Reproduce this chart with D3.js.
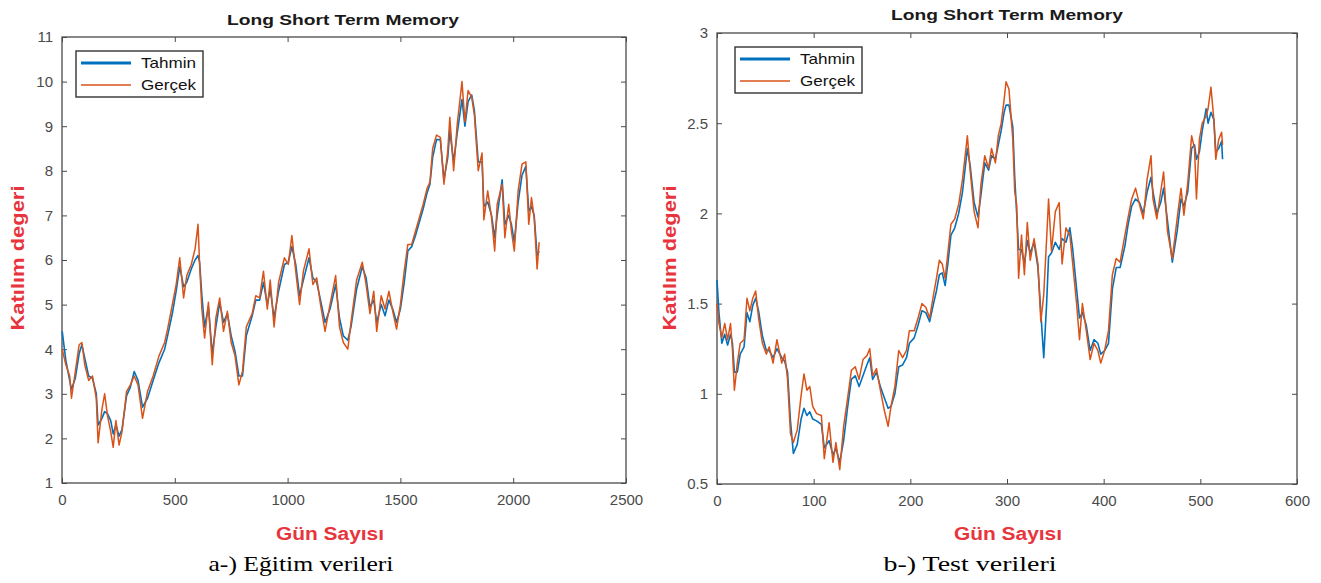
<!DOCTYPE html>
<html>
<head>
<meta charset="utf-8">
<script src="https://cdn.jsdelivr.net/npm/d3@7"></script>
<style>
  body { margin: 0; background: #fff; }
  svg { display: block; font-family: "Liberation Sans", Arial, sans-serif; }
</style>
</head>
<body>
<div id="chart"></div>
<script>

// ---- a-) training data (day, value) ----
var trainDays = [
  1,17,34,42,59,76,88,101,118,135,
  152,160,177,189,202,216,227,239,253,266,
  286,303,320,337,357,379,404,430,455,468,
  489,506,522,539,553,573,590,603,610,620,
  632,649,666,682,699,716,733,750,767,784,
  800,817,843,859,876,893,910,923,940,960,
  986,1003,1019,1036,1053,1070,1095,1112,1129,1146,
  1166,1188,1213,1230,1247,1267,1281,1306,1331,1348,
  1365,1382,1395,1415,1432,1449,1466,1483,1500,1517,
  1533,1550,1567,1584,1601,1618,1631,1643,1660,1677,
  1693,1710,1719,1736,1752,1773,1786,1800,1816,1828,
  1845,1862,1870,1887,1904,1918,1929,1951,1963,1980,
  1992,2005,2022,2039,2056,2069,2081,2093,2106,2115
];
var trainGercek = [
  4.0,3.65,3.4,2.9,3.5,4.1,4.15,3.65,3.3,3.4,
  2.9,1.9,2.65,3.0,2.5,2.15,1.8,2.4,1.85,2.15,
  3.05,3.2,3.4,3.2,2.45,3.05,3.4,3.85,4.15,4.45,
  5.0,5.45,6.05,5.15,5.65,5.9,6.25,6.8,5.9,4.9,
  4.25,5.05,3.65,4.7,5.15,4.4,4.85,4.15,3.85,3.2,
  3.5,4.5,4.8,5.2,5.15,5.75,4.9,5.55,4.5,5.5,
  6.05,5.9,6.55,5.75,5.0,5.75,6.25,5.45,5.6,5.0,
  4.4,5.0,5.65,4.5,4.15,4.0,4.6,5.55,5.95,5.45,
  4.8,5.3,4.4,5.2,4.9,5.3,4.85,4.45,5.0,5.75,
  6.35,6.35,6.65,6.95,7.25,7.6,7.75,8.5,8.8,8.75,
  7.7,8.45,9.2,8.0,9.05,10.0,9.1,9.8,9.65,9.25,
  8.0,8.4,6.9,7.55,6.95,6.2,7.25,7.7,6.5,7.25,
  6.65,6.2,7.55,8.15,8.2,6.8,7.4,6.95,5.8,6.4
];
var trainTahmin = [
  4.4,3.75,3.3,3.1,3.35,3.9,4.1,3.8,3.4,3.35,
  3.0,2.3,2.45,2.6,2.55,2.4,2.1,2.3,2.05,2.2,
  2.95,3.15,3.5,3.3,2.7,2.9,3.3,3.7,4.0,4.3,
  4.8,5.3,5.85,5.4,5.5,5.8,6.0,6.1,5.95,5.2,
  4.5,4.95,3.9,4.5,5.05,4.6,4.8,4.3,3.95,3.4,
  3.4,4.3,4.75,5.1,5.1,5.5,5.0,5.35,4.7,5.3,
  5.9,5.95,6.3,5.9,5.2,5.55,6.05,5.6,5.5,5.1,
  4.6,4.9,5.45,4.7,4.3,4.2,4.5,5.35,5.85,5.6,
  4.95,5.1,4.6,5.0,4.75,5.1,4.9,4.6,4.9,5.5,
  6.2,6.3,6.55,6.85,7.15,7.5,7.7,8.3,8.7,8.7,
  7.8,8.3,8.9,8.2,8.85,9.6,9.0,9.55,9.7,9.35,
  8.2,8.2,7.2,7.3,7.0,6.5,7.0,7.8,6.8,7.0,
  6.8,6.4,7.3,7.9,8.1,7.1,7.2,7.0,6.1,6.2
];

// ---- b-) test data (day, value) ----
var testDays = [
  0,2,5,8,11,14,16,18,21,24,
  28,31,34,37,40,43,47,51,54,58,
  62,67,70,73,76,79,83,87,90,93,
  96,99,103,108,111,116,120,123,127,131,
  135,139,143,147,151,155,158,161,165,169,
  173,177,180,184,188,192,196,199,204,208,
  212,216,220,224,227,230,233,236,239,242,
  246,250,254,259,262,266,270,273,277,281,
  284,288,291,294,297,299,302,306,308,310,
  312,315,318,321,324,328,332,335,338,341,
  343,346,350,354,357,361,365,368,372,375,
  378,382,386,390,394,397,401,405,409,413,
  417,422,425,429,433,437,441,445,449,451,
  455,459,462,466,471,476,480,483,487,491,
  494,496,499,502,506,508,511,514,516,519,
  522,523
];
var testGercek = [
  1.5,1.39,1.31,1.39,1.30,1.39,1.24,1.02,1.17,1.28,
  1.30,1.53,1.46,1.53,1.57,1.42,1.28,1.22,1.26,1.17,
  1.30,1.17,1.22,1.08,0.78,0.73,0.80,0.99,1.11,1.02,
  1.04,0.93,0.89,0.88,0.64,0.84,0.62,0.73,0.58,0.82,
  0.97,1.13,1.15,1.08,1.19,1.21,1.25,1.10,1.14,1.02,
  0.91,0.82,0.93,1.04,1.24,1.20,1.24,1.35,1.35,1.42,
  1.50,1.48,1.42,1.55,1.64,1.74,1.72,1.64,1.79,1.94,
  1.97,2.05,2.19,2.43,2.23,2.01,1.92,2.16,2.32,2.25,
  2.36,2.28,2.43,2.50,2.63,2.73,2.69,2.41,2.12,2.05,
  1.64,1.88,1.66,1.95,1.74,1.86,1.72,1.40,1.55,1.86,
  2.08,1.79,2.01,2.06,1.72,1.92,1.88,1.72,1.50,1.30,
  1.50,1.35,1.19,1.28,1.24,1.17,1.24,1.35,1.66,1.75,
  1.73,1.88,1.97,2.08,2.14,2.05,1.97,2.19,2.32,2.08,
  1.97,2.12,2.23,1.90,1.75,1.97,2.14,1.99,2.17,2.43,
  2.36,2.08,2.41,2.50,2.54,2.58,2.70,2.52,2.30,2.41,
  2.45,2.38
];
var testTahmin = [
  1.63,1.45,1.28,1.33,1.27,1.33,1.28,1.12,1.12,1.22,
  1.26,1.45,1.40,1.49,1.53,1.46,1.32,1.24,1.24,1.20,
  1.25,1.20,1.18,1.12,0.85,0.67,0.72,0.86,0.92,0.88,
  0.90,0.86,0.85,0.83,0.70,0.74,0.66,0.70,0.62,0.74,
  0.92,1.08,1.10,1.04,1.10,1.16,1.20,1.08,1.12,1.04,
  0.98,0.92,0.93,1.00,1.15,1.16,1.20,1.28,1.31,1.38,
  1.46,1.45,1.40,1.50,1.57,1.66,1.67,1.60,1.73,1.88,
  1.92,2.00,2.12,2.36,2.26,2.06,1.98,2.10,2.28,2.24,
  2.32,2.30,2.38,2.46,2.56,2.60,2.60,2.48,2.20,2.00,
  1.80,1.80,1.72,1.85,1.78,1.84,1.70,1.45,1.20,1.50,
  1.76,1.78,1.84,1.80,1.86,1.84,1.92,1.80,1.58,1.42,
  1.45,1.38,1.24,1.30,1.28,1.22,1.24,1.28,1.58,1.70,
  1.70,1.82,1.93,2.04,2.08,2.06,2.00,2.12,2.20,2.12,
  2.00,2.06,2.14,1.96,1.73,1.90,2.08,2.04,2.12,2.36,
  2.38,2.30,2.34,2.46,2.58,2.50,2.56,2.52,2.34,2.36,
  2.40,2.30
];

var trainXTicks = [0, 500, 1000, 1500, 2000, 2500];
var trainYTicks = [1, 2, 3, 4, 5, 6, 7, 8, 9, 10, 11];
var testXTicks = [0, 100, 200, 300, 400, 500, 600];
var testYTicks = [0.5, 1, 1.5, 2, 2.5, 3];

var seriesNames = ["Tahmin", "Gerçek"];
var colors = ["#0072BD", "#D95319"];
var titleText = "Long Short Term Memory";
var xLabelText = "Gün Sayısı";
var yLabelText = "Katılım degeri";
var redLabel = "#e8343c";

var svg = d3.select("#chart").append("svg")
    .attr("width", 1321)
    .attr("height", 583);

// stretched text helper (the original figure is slightly widened)
function addText(g, txt, x, y, size, width, opts) {
    opts = opts || {};
    var t = g.append("text")
        .attr("x", x)
        .attr("y", y)
        .attr("text-anchor", "middle")
        .style("font-size", size + "px")
        .style("font-weight", opts.bold ? "bold" : "normal")
        .style("font-family", opts.family || null)
        .style("fill", opts.fill || "#000")
        .text(txt);
    if (width) t.attr("textLength", width).attr("lengthAdjust", "spacingAndGlyphs");
    if (opts.rotate) t.attr("transform", "rotate(-90," + x + "," + y + ")");
    return t;
}

function drawPanel(p) {
    var x = d3.scaleLinear().domain(p.xDomain).range([p.left, p.right]);
    var y = d3.scaleLinear().domain(p.yDomain).range([p.bottom, p.top]);
    var g = svg.append("g");

    var fmt = function (d) { return String(d); };

    // axes with inward ticks on all four sides
    g.append("g")
        .attr("transform", "translate(0," + p.bottom + ")")
        .call(d3.axisBottom(x).tickValues(p.xTicks).tickSize(-5).tickPadding(11).tickFormat(fmt));
    g.append("g")
        .attr("transform", "translate(" + p.left + ",0)")
        .call(d3.axisLeft(y).tickValues(p.yTicks).tickSize(-5).tickPadding(9).tickFormat(fmt));
    g.append("g")
        .attr("transform", "translate(0," + p.top + ")")
        .call(d3.axisTop(x).tickValues(p.xTicks).tickSize(-5).tickFormat(""));
    g.append("g")
        .attr("transform", "translate(" + p.right + ",0)")
        .call(d3.axisRight(y).tickValues(p.yTicks).tickSize(-5).tickFormat(""));

    g.selectAll(".domain").remove();
    g.selectAll(".tick line").attr("stroke", "#4a4a4a");
    g.selectAll(".tick text")
        .style("font-size", "15px")
        .style("font-family", "'Liberation Sans', Arial, sans-serif")
        .attr("fill", "#4a4a4a");

    g.append("rect")
        .attr("x", p.left).attr("y", p.top)
        .attr("width", p.right - p.left).attr("height", p.bottom - p.top)
        .attr("fill", "none").attr("stroke", "#4a4a4a").attr("stroke-width", 1.3);

    // lines
    var line = d3.line()
        .x(function (d) { return x(d[0]); })
        .y(function (d) { return y(d[1]); });

    var tahmin = p.days.map(function (d, i) { return [d, p.tahmin[i]]; });
    var gercek = p.days.map(function (d, i) { return [d, p.gercek[i]]; });

    g.append("path").datum(tahmin)
        .attr("d", line).attr("fill", "none")
        .attr("stroke", colors[0]).attr("stroke-width", 1.6).attr("stroke-linejoin", "round");
    g.append("path").datum(gercek)
        .attr("d", line).attr("fill", "none")
        .attr("stroke", colors[1]).attr("stroke-width", 1.5).attr("stroke-linejoin", "round");

    // legend
    var lg = g.append("g").attr("transform", "translate(" + p.legend[0] + "," + p.legend[1] + ")");
    lg.append("rect")
        .attr("width", p.legendW).attr("height", 46)
        .attr("fill", "#fff").attr("stroke", "#333").attr("stroke-width", 1.4);
    seriesNames.forEach(function (name, i) {
        var yy = 12 + i * 22;
        lg.append("line")
            .attr("x1", 5).attr("x2", 55).attr("y1", yy).attr("y2", yy)
            .attr("stroke", colors[i]).attr("stroke-width", i === 0 ? 2.8 : 1.7);
        lg.append("text")
            .attr("x", 65).attr("y", yy + 5)
            .style("font-size", "15px").style("fill", "#111")
            .attr("textLength", 55).attr("lengthAdjust", "spacingAndGlyphs")
            .text(name);
    });

    // titles and labels
    addText(g, titleText, p.titleX, p.titleY, 15, 232, { bold: true, fill: "#1a1a1a" });
    addText(g, xLabelText, p.xLabelX, 540, 18, 108, { bold: true, fill: redLabel });
    addText(g, yLabelText, p.yLabelX, 258, 19, 145, { bold: true, fill: redLabel, rotate: true });
    addText(g, p.caption, p.captionX, 571, 22, p.captionW,
        { family: "'Liberation Serif', 'Times New Roman', serif", fill: "#000" });
}

drawPanel({
    days: trainDays, tahmin: trainTahmin, gercek: trainGercek,
    xDomain: [0, 2500], yDomain: [1, 11],
    xTicks: trainXTicks, yTicks: trainYTicks,
    left: 62, right: 626, top: 37, bottom: 483,
    legend: [76, 51], legendW: 127,
    titleX: 343, titleY: 25,
    xLabelX: 330, yLabelX: 24,
    caption: "a-) Eğitim verileri", captionX: 301, captionW: 185
});

drawPanel({
    days: testDays, tahmin: testTahmin, gercek: testGercek,
    xDomain: [0, 600], yDomain: [0.5, 3],
    xTicks: testXTicks, yTicks: testYTicks,
    left: 717, right: 1297, top: 33, bottom: 484,
    legend: [735, 47], legendW: 127,
    titleX: 1007, titleY: 20,
    xLabelX: 1008, yLabelX: 676,
    caption: "b-) Test verileri", captionX: 970, captionW: 173
});

</script>
</body>
</html>
